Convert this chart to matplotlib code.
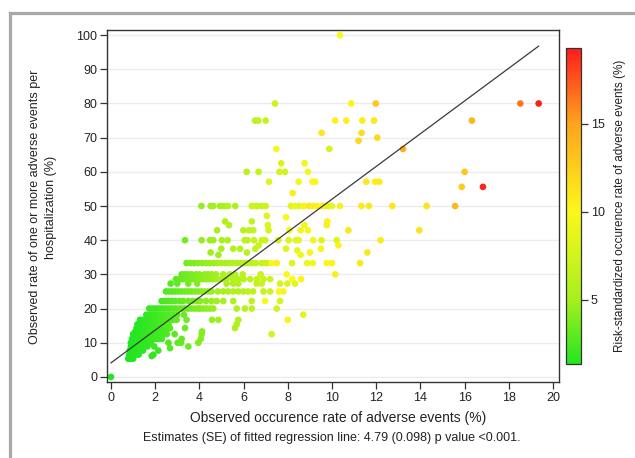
import numpy as np
import matplotlib
matplotlib.use("Agg")
import matplotlib.pyplot as plt
from matplotlib.colors import LinearSegmentedColormap, Normalize
from matplotlib.lines import Line2D

plt.rcParams['font.family'] = ['Liberation Sans', 'DejaVu Sans']

# observed occurrence rate of adverse events (%), one line per row of the plot
obs_x = [
    10.36,
    7.42, 10.87, 11.98, 18.52, 19.35,
    6.52, 6.67, 7.0, 10.14, 10.65, 11.37, 11.9, 16.33,
    9.53, 11.34, 12.05, 11.2,
    7.48, 9.88, 13.21,
    7.7, 8.76,
    6.14, 6.68, 7.62, 7.87, 8.91, 16.0,
    7.15, 8.49, 9.12, 9.24, 11.55, 11.95, 12.14,
    15.87, 16.83, 8.22,
    4.09, 4.51, 4.63, 4.93, 5.11, 5.29, 5.62, 6.37, 6.56, 6.62, 6.82, 7.0, 8.14, 8.33, 8.52,
    8.73, 8.97, 9.15, 9.33, 9.55, 9.7, 9.85, 10.0, 10.36, 11.33, 11.67, 12.73, 14.28, 15.57,
    7.05, 7.92,
    5.16, 6.37, 9.79,
    5.34, 7.1, 8.75, 9.76,
    4.8, 5.99, 6.24, 6.44, 7.13, 8.07, 8.58, 8.91, 10.74, 13.95,
    3.35, 4.1, 4.48, 4.63, 5.02, 5.28, 6.05, 6.18, 6.47, 6.83, 6.98, 7.57, 8.04, 8.37, 8.49,
    9.15, 9.53, 10.21, 12.2,
    4.99, 5.53, 5.84, 6.53, 6.68, 7.92, 8.43, 9.0, 9.5, 10.29, 11.6, 4.51, 6.15, 4.86, 8.58,
    3.42, 3.6, 3.78, 3.95, 4.12, 4.3, 4.47, 4.65, 4.82, 5.0, 5.18, 5.35, 5.52, 5.7, 5.88,
    6.05, 6.22, 6.4, 6.56, 6.82, 6.97, 7.07, 7.27, 7.5, 8.19, 8.88, 9.13, 9.76, 10.0, 11.27,
    3.2, 3.35, 3.5, 3.65, 3.85, 4.0, 4.25, 4.4, 4.55, 4.75, 5.08, 5.38, 5.61, 5.96, 6.77, 7.95, 10.15,
    2.94, 3.1, 3.25, 3.4, 3.55, 3.7, 3.85, 4.0, 4.15, 4.3, 4.45, 4.6, 4.78, 5.0, 5.2, 5.5,
    5.75, 6.0, 6.3, 6.6, 6.9, 7.2, 8.2, 8.6,
    2.7, 3.0, 3.5, 3.9, 5.23, 5.53, 5.76, 6.59, 6.82, 7.65, 7.98, 8.33,
    2.49, 2.63, 2.77, 2.91, 3.05, 3.2, 3.35, 3.5, 3.65, 3.8, 3.95, 4.1, 4.25, 4.4, 4.55,
    4.84, 5.08, 5.3, 5.53, 5.75, 5.99, 6.2, 6.43, 6.9, 7.2, 7.6, 7.8,
    2.29, 2.45, 2.6, 2.75, 2.9, 3.1, 3.27, 3.5, 3.7, 3.9, 4.03, 4.3, 4.55, 4.78, 5.08, 5.53,
    6.37, 6.97, 7.65,
    1.73, 1.87, 2.0, 2.13, 2.27, 2.4, 2.53, 2.67, 2.8, 2.93, 3.07, 3.2, 3.35, 3.5, 3.65,
    3.8, 3.95, 4.03, 4.18, 4.33, 4.48, 4.63, 5.69, 6.06, 6.37, 7.5,
    1.6, 1.8, 2.0, 2.2, 2.4, 2.6, 2.8, 3.0, 3.3, 8.7,
    1.31, 1.45, 1.6, 1.75, 1.9, 2.05, 2.2, 2.35, 2.5, 2.65, 2.8, 2.97, 3.42, 4.57, 4.86, 5.76, 8.0,
    1.2, 1.4, 1.6, 1.8, 2.0, 2.2, 2.4, 2.6, 5.69,
    1.16, 1.3, 1.45, 1.6, 1.75, 1.9, 2.05, 2.2, 2.35, 2.5, 2.67, 3.35, 5.61,
    1.1, 1.3, 1.5, 1.7, 1.9, 2.1, 2.3, 2.5, 4.12,
    1.0, 1.15, 1.3, 1.45, 1.6, 1.75, 1.9, 2.05, 2.2, 2.35, 2.52, 2.88, 4.1, 7.27,
    0.95, 1.1, 1.25, 1.4, 1.55, 1.7, 1.85, 2.0, 2.15, 2.3, 3.2, 4.06,
    0.9, 1.05, 1.2, 1.35, 1.5, 1.65, 1.8, 2.6, 3.02, 3.17, 3.95,
    0.9, 1.05, 1.2, 1.35, 1.5, 1.65, 1.96, 3.5,
    0.85, 1.0, 1.15, 1.3, 1.45, 2.14, 2.67,
    0.82, 0.95, 1.1, 1.25, 1.84, 1.92,
    0.78, 0.9, 1.0,
    0.0,
]

# observed rate of one or more adverse events per hospitalization (%)
obs_y = [
    100,
    80, 80, 80, 80, 80,
    75, 75, 75, 75, 75, 75, 75, 75,
    71.4, 71.4, 70, 69.1,
    66.7, 66.7, 66.7,
    62.5, 62.5,
    60, 60, 60, 60, 60, 60,
    57.1, 57.1, 57.1, 57.1, 57.1, 57.1, 57.1,
    55.6, 55.6, 53.8,
    50, 50, 50, 50, 50, 50, 50, 50, 50, 50, 50, 50, 50, 50, 50,
    50, 50, 50, 50, 50, 50, 50, 50, 50, 50, 50, 50, 50, 50,
    47.1, 46.7,
    45.5, 45.5, 45.5,
    44.4, 44.4, 44.4, 44.4,
    42.9, 42.9, 42.9, 42.9, 42.9, 42.9, 42.9, 42.9, 42.9, 42.9,
    40, 40, 40, 40, 40, 40, 40, 40, 40, 40, 40, 40, 40, 40, 40,
    40, 40, 40, 40,
    37.5, 37.5, 37.5, 37.5, 38.5, 37.5, 37.0, 36.4, 37.5, 38.5, 36.4, 36.4, 36.4, 35.7, 35.7,
    33.3, 33.3, 33.3, 33.3, 33.3, 33.3, 33.3, 33.3, 33.3, 33.3, 33.3, 33.3, 33.3, 33.3, 33.3,
    33.3, 33.3, 33.3, 33.3, 33.3, 33.3, 33.3, 33.3, 33.3, 33.3, 33.3, 33.3, 33.3, 33.3, 33.3,
    30, 30, 30, 30, 30, 30, 30, 30, 30, 30, 30, 30, 30, 30, 30, 30, 30,
    28.6, 28.6, 28.6, 28.6, 28.6, 28.6, 28.6, 28.6, 28.6, 28.6, 28.6, 28.6, 28.6, 28.6, 28.6, 28.6,
    28.6, 28.6, 28.6, 28.6, 28.6, 28.6, 28.6, 28.6,
    27.3, 27.3, 27.3, 27.3, 27.3, 27.3, 27.3, 27.3, 27.3, 27.3, 27.3, 27.3,
    25, 25, 25, 25, 25, 25, 25, 25, 25, 25, 25, 25, 25, 25, 25,
    25, 25, 25, 25, 25, 25, 25, 25, 25, 25, 25, 25,
    22.2, 22.2, 22.2, 22.2, 22.2, 22.2, 22.2, 22.2, 22.2, 22.2, 22.2, 22.2, 22.2, 22.2, 22.2, 22.2,
    22.2, 22.2, 22.2,
    20, 20, 20, 20, 20, 20, 20, 20, 20, 20, 20, 20, 20, 20, 20,
    20, 20, 20, 20, 20, 20, 20, 20, 20, 20, 20,
    18.2, 18.2, 18.2, 18.2, 18.2, 18.2, 18.2, 18.2, 18.2, 18.2,
    16.7, 16.7, 16.7, 16.7, 16.7, 16.7, 16.7, 16.7, 16.7, 16.7, 16.7, 16.7, 16.7, 16.7, 16.7, 16.7, 16.7,
    15.4, 15.4, 15.4, 15.4, 15.4, 15.4, 15.4, 15.4, 15.4,
    14.3, 14.3, 14.3, 14.3, 14.3, 14.3, 14.3, 14.3, 14.3, 14.3, 14.3, 14.3, 14.3,
    13.3, 13.3, 13.3, 13.3, 13.3, 13.3, 13.3, 13.3, 13.3,
    12.5, 12.5, 12.5, 12.5, 12.5, 12.5, 12.5, 12.5, 12.5, 12.5, 12.5, 12.5, 12.5, 12.5,
    11.1, 11.1, 11.1, 11.1, 11.1, 11.1, 11.1, 11.1, 11.1, 11.1, 11.1, 11.1,
    10, 10, 10, 10, 10, 10, 10, 10, 10, 10, 10,
    8.9, 8.9, 8.9, 8.9, 8.9, 8.9, 8.9, 8.9,
    7.7, 7.7, 7.7, 7.7, 7.7, 7.7, 8.4,
    6.5, 6.5, 6.5, 6.5, 6.1, 6.5,
    5.3, 5.3, 5.3,
    0,
]

# risk-standardized occurrence rate of adverse events (%), colour of each point
risk_c = [
    10.0,
    7.2, 10.2, 12.8, 16.3, 19.2,
    6.4, 6.5, 6.8, 10.3, 10.5, 10.7, 11.0, 14.0,
    10.9, 11.6, 11.8, 12.0,
    9.7, 7.8, 14.3,
    8.2, 9.4,
    6.1, 6.7, 7.6, 7.4, 9.6, 12.8,
    8.3, 9.4, 9.9, 10.1, 10.9, 10.6, 10.8,
    12.6, 18.9, 10.6,
    4.5, 4.8, 5.0, 5.0, 5.2, 5.6, 5.4, 7.0, 7.3, 6.9, 6.8, 7.2, 8.6, 8.9, 8.8,
    10.4, 11.0, 10.6, 10.3, 10.2, 10.4, 8.6, 8.8, 10.5, 10.8, 10.9, 11.0, 11.2, 13.7,
    8.2, 9.9,
    5.6, 6.6, 10.4,
    5.9, 8.0, 9.3, 10.6,
    5.2, 5.9, 6.3, 6.6, 7.7, 9.8, 9.2, 9.6, 11.0, 11.2,
    3.6, 4.4, 4.6, 4.8, 5.1, 5.4, 6.2, 6.4, 6.8, 7.0, 7.2, 7.8, 8.2, 8.4, 8.7,
    9.2, 8.4, 8.2, 10.8,
    5.3, 5.8, 6.0, 6.9, 7.0, 8.4, 9.0, 9.5, 10.2, 10.4, 10.9, 4.8, 6.3, 5.0, 9.1,
    3.6, 3.8, 3.9, 4.1, 4.3, 4.4, 4.6, 4.8, 4.9, 5.1, 5.3, 5.4, 5.6, 5.8, 5.9,
    6.1, 6.3, 6.4, 6.6, 6.8, 7.0, 7.1, 10.2, 10.6, 8.3, 9.1, 9.4, 9.8, 10.3, 10.9,
    3.3, 3.5, 3.6, 3.8, 4.0, 4.1, 4.4, 4.5, 4.7, 4.9, 5.2, 5.5, 5.7, 6.0, 7.0, 10.1, 10.6,
    3.0, 3.2, 3.3, 3.5, 3.6, 3.8, 3.9, 4.1, 4.2, 4.4, 4.5, 4.7, 4.9, 5.1, 5.3, 5.6,
    5.8, 6.1, 6.4, 6.7, 7.0, 7.3, 10.0, 10.3,
    2.8, 3.1, 3.6, 4.0, 5.4, 5.6, 5.9, 6.7, 7.0, 7.8, 8.1, 8.5,
    2.5, 2.7, 2.8, 3.0, 3.1, 3.3, 3.4, 3.6, 3.7, 3.9, 4.0, 4.2, 4.3, 4.5, 4.6,
    4.9, 5.2, 5.4, 5.6, 5.8, 6.1, 6.3, 6.5, 7.0, 7.3, 9.9, 10.2,
    2.3, 2.5, 2.6, 2.8, 2.9, 3.1, 3.3, 3.5, 3.7, 3.9, 4.1, 4.3, 4.6, 4.8, 5.1, 5.6,
    6.4, 9.8, 7.7,
    1.9, 2.0, 2.1, 2.2, 2.3, 2.4, 2.5, 2.6, 2.8, 2.9, 3.0, 3.2, 3.3, 3.5, 3.6,
    3.8, 3.9, 4.0, 4.2, 4.3, 4.5, 4.6, 5.7, 6.0, 6.4, 7.6,
    1.8, 2.0, 2.1, 2.3, 2.5, 2.7, 2.9, 3.1, 3.4, 8.6,
    1.6, 1.7, 1.8, 1.9, 2.0, 2.2, 2.3, 2.4, 2.6, 2.7, 2.8, 3.0, 3.5, 4.6, 4.9, 5.8, 10.3,
    1.5, 1.7, 1.8, 2.0, 2.1, 2.3, 2.5, 2.7, 5.7,
    1.5, 1.6, 1.7, 1.8, 1.9, 2.0, 2.2, 2.3, 2.4, 2.6, 2.7, 3.4, 5.6,
    1.5, 1.6, 1.7, 1.9, 2.0, 2.2, 2.3, 2.5, 4.1,
    1.4, 1.5, 1.6, 1.7, 1.8, 1.9, 2.0, 2.1, 2.3, 2.4, 2.5, 2.9, 4.1, 7.4,
    1.4, 1.5, 1.6, 1.7, 1.8, 1.9, 2.0, 2.1, 2.2, 2.3, 3.2, 4.1,
    1.4, 1.5, 1.5, 1.6, 1.7, 1.8, 1.9, 2.6, 3.0, 3.2, 3.9,
    1.4, 1.4, 1.5, 1.6, 1.7, 1.8, 2.0, 3.5,
    1.4, 1.4, 1.5, 1.6, 1.6, 2.1, 2.7,
    1.4, 1.4, 1.5, 1.5, 1.9, 1.9,
    1.4, 1.4, 1.5,
    1.4,
]

# fitted regression line (slope from the caption)
reg_intercept = 4.1
reg_slope = 4.79

cbar_min, cbar_max = 1.36, 19.3
cmap_values = [1.36, 5, 10, 15, 19.3]
cmap_colors = ['#22e622', '#a6f01e', '#fbf81a', '#ffa41c', '#ff1c1c']

x_ticks = list(range(0, 21, 2))
y_ticks = list(range(0, 101, 10))
cbar_ticks = [5, 10, 15]

norm = Normalize(vmin=cbar_min, vmax=cbar_max)
cmap = LinearSegmentedColormap.from_list(
    'risk', [(norm(v), c) for v, c in zip(cmap_values, cmap_colors)])

fig = plt.figure(figsize=(6.35, 4.58), dpi=100)
ax = fig.add_axes([0.1685, 0.1659, 0.7118, 0.7686])
cax = fig.add_axes([0.8913, 0.2052, 0.0236, 0.69])

for t in y_ticks:
    ax.axhline(t, color='#ececec', lw=1.0, zorder=0)

sc = ax.scatter(obs_x, obs_y, c=risk_c, cmap=cmap, norm=norm, s=23,
                linewidths=0, zorder=2)

line_x = np.array([min(obs_x), max(obs_x)])
ax.plot(line_x, reg_intercept + reg_slope * line_x, color='#3a3a3a', lw=0.9, zorder=3)

ax.set_xlim(-0.18, 20.27)
ax.set_ylim(-1.5, 101.5)
ax.set_xticks(x_ticks)
ax.set_yticks(y_ticks)
ax.tick_params(direction='out', length=5, width=0.9, color='#333333',
               labelsize=9, labelcolor='#222222', pad=2)
for sp in ax.spines.values():
    sp.set_color('#333333')
    sp.set_linewidth(1.0)

cb = fig.colorbar(sc, cax=cax, ticks=cbar_ticks)
cb.outline.set_edgecolor('#333333')
cb.outline.set_linewidth(0.9)
cax.tick_params(direction='out', length=5, width=0.9, color='#333333',
                labelsize=9, labelcolor='#222222', pad=2)

fig.text(43 / 635, 1 - 207 / 458,
         'Observed rate of one or more adverse events per\nhospitalization (%)',
         rotation=90, ha='center', va='center', multialignment='center',
         fontsize=9, linespacing=1.55, color='#222222')
fig.text(338 / 635, 1 - 418 / 458, 'Observed occurence rate of adverse events (%)',
         ha='center', va='center', fontsize=10, color='#222222')
fig.text(332 / 635, 1 - 438 / 458,
         'Estimates (SE) of fitted regression line: 4.79 (0.098) p value <0.001.',
         ha='center', va='center', fontsize=9, color='#222222')
fig.text(620 / 635, 1 - 206 / 458,
         'Risk-standardized occurence rate of adverse events (%)',
         rotation=90, ha='center', va='center', fontsize=8.5, color='#222222')

# grey frame around the figure panel
fig.add_artist(Line2D([10 / 635, 1.0], [1 - 13 / 458, 1 - 13 / 458],
                      transform=fig.transFigure, color='#a8a8a8', lw=2.3))
fig.add_artist(Line2D([10 / 635, 10 / 635], [0.0, 1 - 13 / 458],
                      transform=fig.transFigure, color='#a8a8a8', lw=2.3))

fig.savefig('out.png', dpi=100)
